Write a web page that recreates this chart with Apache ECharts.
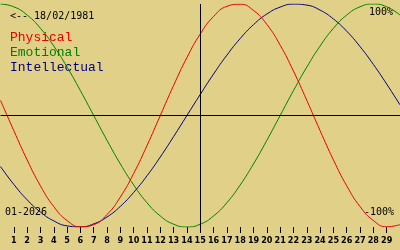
<!DOCTYPE html>
<html>
<head>
<meta charset="utf-8">
<style>
html,body{margin:0;padding:0;background:#E0D088;}
#c{width:400px;height:250px;}
</style>
<script src="https://cdn.jsdelivr.net/npm/echarts@6/dist/echarts.min.js"></script>
</head>
<body>
<div id="c"></div>
<script>
var days = [0,1,2,3,4,5,6,7,8,9,10,11,12,13,14,15,16,17,18,19,20,21,22,23,24,25,26,27,28,29,30];
var tickDays = [1,2,3,4,5,6,7,8,9,10,11,12,13,14,15,16,17,18,19,20,21,22,23,24,25,26,27,28,29];
var physical = [13.6,-13.6,-39.8,-63.1,-81.7,-94.2,-99.8,-97.9,-88.8,-73.1,-52.0,-27.0,0,27.0,52.0,73.1,88.8,97.9,99.8,94.2,81.7,63.1,39.8,13.6,-13.6,-39.8,-63.1,-81.7,-94.2,-99.8,-97.9];
var emotional = [100,97.5,90.1,78.2,62.3,43.4,22.3,0,-22.3,-43.4,-62.3,-78.2,-90.1,-97.5,-100,-97.5,-90.1,-78.2,-62.3,-43.4,-22.3,0,22.3,43.4,62.3,78.2,90.1,97.5,100,97.5,90.1];
var intellectual = [-45.8,-61.8,-75.6,-86.6,-94.5,-99.0,-99.9,-97.2,-91.0,-81.5,-69.0,-54.1,-37.2,-18.9,0,18.9,37.2,54.1,69.0,81.5,91.0,97.2,99.9,99.0,94.5,86.6,75.6,61.8,45.8,28.2,9.5];
var birthLabel = "<-- 18/02/1981";
var monthLabel = "01-2026";
var topLabel = "100%";
var bottomLabel = "-100%";
var names = ["Physical","Emotional","Intellectual"];
var colors = ["#E80000","#008000","#000080"];

function pairs(vals){ return days.map(function(d,i){ return [d, vals[i]]; }); }

var chart = echarts.init(document.getElementById('c'), null, {renderer:'canvas'});
var smallFont = '"DejaVu Sans Mono", monospace';
var legendFont = '"Liberation Mono", monospace';
chart.setOption({
  backgroundColor: '#E0D088',
  animation: false,
  grid: {left: 0.5, right: -0.5, top: 4, bottom: 23},
  xAxis: {
    type: 'value', min: 0, max: 30, interval: 1,
    splitLine: {show: false},
    axisLine: {show: false, onZero: false},
    axisTick: {show: true, length: 6, customValues: tickDays, lineStyle: {color: '#000', width: 1}},
    axisLabel: {show: true, customValues: tickDays, margin: 9, color: '#000', fontSize: 9, fontWeight: 'bold', fontFamily: '"Liberation Sans Narrow", "DejaVu Sans Condensed", sans-serif'}
  },
  yAxis: {
    type: 'value', min: -100, max: 100,
    show: false, splitLine: {show: false}
  },
  graphic: [
    {type:'text', left: 10, top: 11, style:{text: birthLabel, font: '10px ' + smallFont, fill:'#000'}},
    {type:'text', left: 10, top: 31, style:{text: names[0], font: '13px ' + legendFont, fill: colors[0]}},
    {type:'text', left: 10, top: 46, style:{text: names[1], font: '13px ' + legendFont, fill: colors[1]}},
    {type:'text', left: 10, top: 61, style:{text: names[2], font: '13px ' + legendFont, fill: colors[2]}},
    {type:'text', right: 7, top: 7, style:{text: topLabel, font: '10px ' + smallFont, fill:'#000'}},
    {type:'text', right: 6, top: 207, style:{text: bottomLabel, font: '10px ' + smallFont, fill:'#000'}},
    {type:'text', left: 5, top: 207, style:{text: monthLabel, font: '10px ' + smallFont, fill:'#000'}}
  ],
  series: [
    {name: names[0], type:'line', data: pairs(physical), smooth: 0.5, showSymbol:false, lineStyle:{color:colors[0], width:1}, z: 3,
     markLine: {silent:true, symbol:['none','none'], label:{show:false}, lineStyle:{color:'#000', width:1, type:'solid'},
       data: [{xAxis: 15}, {yAxis: 0}]}},
    {name: names[1], type:'line', data: pairs(emotional), smooth: 0.5, showSymbol:false, lineStyle:{color:colors[1], width:1}, z: 2},
    {name: names[2], type:'line', data: pairs(intellectual), smooth: 0.5, showSymbol:false, lineStyle:{color:colors[2], width:1}, z: 2}
  ]
});
</script>
</body>
</html>
